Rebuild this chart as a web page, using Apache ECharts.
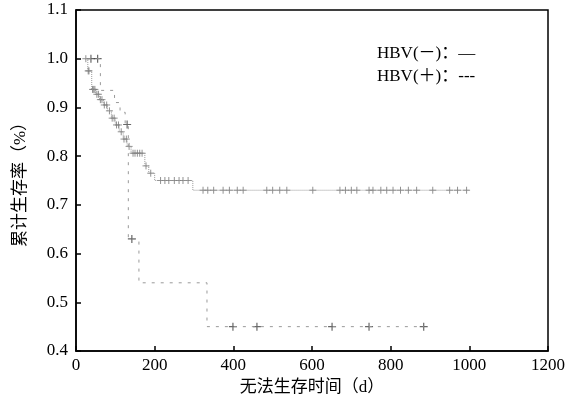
<!DOCTYPE html>
<html>
<head>
<meta charset="utf-8">
<script src="https://cdn.jsdelivr.net/npm/echarts@6/dist/echarts.min.js"></script>
<style>
  html, body { margin: 0; padding: 0; background: #fff; }
  #chart { width: 578px; height: 404px; }
</style>
</head>
<body>
<div id="chart"></div>
<script>
// 坐标轴刻度
const xTicks = [0, 200, 400, 600, 800, 1000, 1200]
const yTicks = [0.4, 0.5, 0.6, 0.7, 0.8, 0.9, 1.0, 1.1]

// HBV(-) 生存曲线：事件时间 / 生存率
const negTime = [23, 30, 40, 50, 60, 70, 80, 90, 100, 110, 120, 130, 140, 175, 185, 200, 297, 1000]
const negSurv = [1.0, 0.975, 0.937, 0.927, 0.916, 0.905, 0.893, 0.878, 0.864, 0.85, 0.835, 0.82, 0.806, 0.78, 0.765, 0.75, 0.73, 0.73]
// HBV(-) 删失时间点
const negCensor = [25, 31, 33, 42, 45, 48, 53, 57, 62, 66, 72, 78, 85, 92, 97, 103, 108, 115, 122, 128, 135,
  145, 150, 156, 162, 168, 178, 190, 215, 226, 236, 250, 262, 272, 285,
  323, 335, 350, 374, 390, 410, 425, 485, 500, 518, 536, 602, 671, 685, 700, 714, 745, 755,
  775, 790, 806, 825, 845, 866, 907, 950, 970, 993]

// HBV(+) 生存曲线
const posTime = [30, 62, 98, 112, 125, 133, 160, 333, 884]
const posSurv = [1.0, 0.935, 0.91, 0.89, 0.865, 0.63, 0.54, 0.45, 0.45]
// HBV(+) 删失时间点
const posCensor = [38, 55, 130, 142, 399, 460, 651, 745, 884]

// 根据阶梯曲线取删失点所在的生存率
function survAt(times, survs, t) {
  let s = survs[0]
  for (let i = 0; i < times.length; i++) {
    if (times[i] <= t) s = survs[i]
  }
  return s
}

const negLine = negTime.map((t, i) => [t, negSurv[i]])
const posLine = posTime.map((t, i) => [t, posSurv[i]])
const negMarks = negCensor.map(t => [t, survAt(negTime, negSurv, t)])
const posMarks = posCensor.map(t => [t, survAt(posTime, posSurv, t)])

const serif = '"Liberation Serif", "DejaVu Serif", "Noto Sans CJK SC", serif'
const plus = 'path://M5,0L5,10M0,5L10,5'

const chart = echarts.init(document.getElementById('chart'))
const option = {
  animation: false,
  backgroundColor: '#fff',
  grid: {
    left: 76,
    right: 30,
    top: 10,
    bottom: 53,
    show: true,
    borderColor: '#000',
    borderWidth: 1.5
  },
  xAxis: {
    type: 'value',
    min: xTicks[0],
    max: xTicks[xTicks.length - 1],
    interval: 200,
    name: '无法生存时间（d）',
    nameLocation: 'middle',
    nameGap: 25,
    nameTextStyle: { fontFamily: serif, fontSize: 17, color: '#000' },
    axisLine: { show: true, lineStyle: { color: '#000', width: 1.5 } },
    axisTick: { show: true, inside: true, length: 5, lineStyle: { color: '#000', width: 1.5 } },
    axisLabel: { fontFamily: serif, fontSize: 17, color: '#000', margin: 6, formatter: v => String(v) },
    splitLine: { show: false }
  },
  yAxis: {
    type: 'value',
    min: yTicks[0],
    max: yTicks[yTicks.length - 1],
    interval: 0.1,
    name: '累计生存率（%）',
    nameLocation: 'middle',
    nameGap: 47,
    nameRotate: 90,
    nameTextStyle: { fontFamily: serif, fontSize: 17, color: '#000' },
    axisLine: { show: true, lineStyle: { color: '#000', width: 1.5 } },
    axisTick: { show: true, inside: true, length: 5, lineStyle: { color: '#000', width: 1.5 } },
    axisLabel: {
      fontFamily: serif, fontSize: 17, color: '#000', margin: 8,
      formatter: v => v.toFixed(1)
    },
    splitLine: { show: false }
  },
  graphic: [
    {
      type: 'text', left: 377, top: 45,
      style: { text: 'HBV(－)：—', font: '17px ' + serif, fill: '#000' }
    },
    {
      type: 'text', left: 377, top: 68,
      style: { text: 'HBV(＋)：---', font: '17px ' + serif, fill: '#000' }
    }
  ],
  series: [
    {
      name: 'HBV(-)',
      type: 'line',
      step: 'end',
      data: negLine,
      showSymbol: false,
      lineStyle: { color: '#999', width: 1, type: 'dotted' }
    },
    {
      name: 'HBV(+)',
      type: 'line',
      step: 'end',
      data: posLine,
      showSymbol: false,
      lineStyle: { color: '#999', width: 1, type: [3, 6] }
    },
    {
      name: 'HBV(-) 删失',
      type: 'scatter',
      data: negMarks,
      symbol: plus,
      symbolSize: 7,
      itemStyle: { color: 'transparent', borderColor: '#777', borderWidth: 1 }
    },
    {
      name: 'HBV(+) 删失',
      type: 'scatter',
      data: posMarks,
      symbol: plus,
      symbolSize: 8,
      itemStyle: { color: 'transparent', borderColor: '#444', borderWidth: 1.2 }
    }
  ]
}
chart.setOption(option)

window.addEventListener('resize', () => {
  chart.resize()
})
</script>
</body>
</html>
